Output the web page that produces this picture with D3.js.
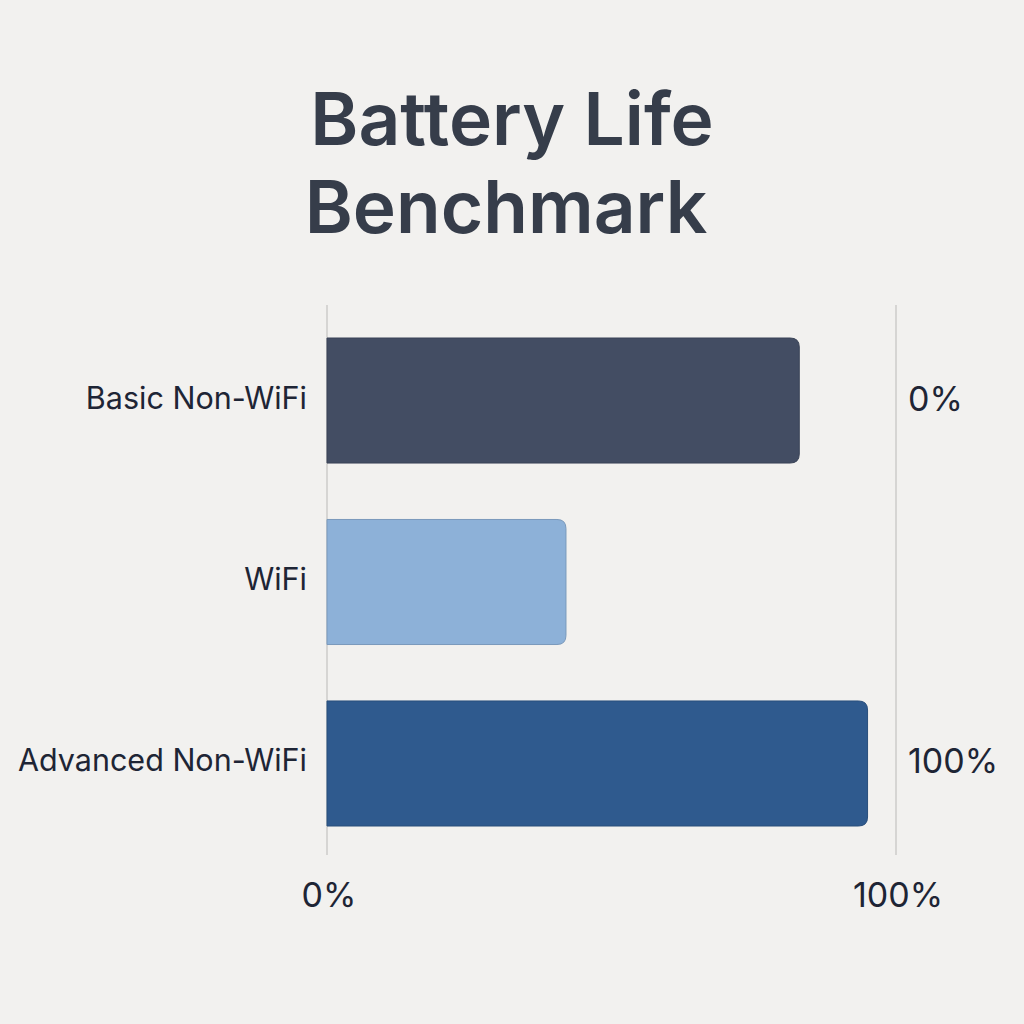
<!DOCTYPE html>
<html>
<head>
<meta charset="utf-8">
<script src="https://cdn.jsdelivr.net/npm/d3@7"></script>
<style>
  body{margin:0;background:#f2f1ef;}
  svg{display:block;}
</style>
</head>
<body>
<svg id="chart"></svg>
<script>
var categories = ["Basic Non-WiFi", "WiFi", "Advanced Non-WiFi"];
var values = [83, 42, 95];
var barColors = ["#434d63", "#8db1d8", "#2f5a8e"];
var xTicks = [0, 100];
var sideLabels = ["0%", "", "100%"];

var width = 1024, height = 1024;
var margins = {top: 305, bot: 169, left: 327, right: 128};

var svg = d3.select("#chart")
            .attr("width", width)
            .attr("height", height);

svg.append("rect")
   .attr("width", width).attr("height", height)
   .attr("fill", "#f2f1ef");

// title
var title = svg.append("text")
   .attr("text-anchor", "middle")
   .attr("font-family", "Inter, 'Noto Sans', sans-serif")
   .attr("font-weight", 600)
   .attr("font-size", 73)
   .attr("fill", "#363d4a");
title.append("tspan").attr("x", 512).attr("y", 145).text("Battery Life");
title.append("tspan").attr("x", 506).attr("y", 233).text("Benchmark");

var xScale = d3.scaleLinear()
               .domain([0, 100])
               .range([margins.left, width - margins.right]);

var yScale = d3.scaleBand()
               .domain(categories)
               .range([338, 826])
               .paddingInner(0.311)
               .paddingOuter(0);

// grid lines at ticks
svg.selectAll("line.grid")
   .data(xTicks)
   .enter()
   .append("line")
   .attr("class", "grid")
   .attr("x1", function(d){ return xScale(d); })
   .attr("x2", function(d){ return xScale(d); })
   .attr("y1", margins.top)
   .attr("y2", height - margins.bot)
   .attr("stroke", "#d6d5d3")
   .attr("stroke-width", 2);

// bars, rounded only at the end
function barPath(d, i){
  var x0 = xScale(0), x1 = xScale(d), y0 = yScale(categories[i]), h = yScale.bandwidth(), r = 9;
  return "M" + x0 + "," + y0 +
         "H" + (x1 - r) +
         "Q" + x1 + "," + y0 + " " + x1 + "," + (y0 + r) +
         "V" + (y0 + h - r) +
         "Q" + x1 + "," + (y0 + h) + " " + (x1 - r) + "," + (y0 + h) +
         "H" + x0 + "Z";
}

svg.selectAll("path.bar")
   .data(values)
   .enter()
   .append("path")
   .attr("class", "bar")
   .attr("d", barPath)
   .attr("fill", function(d, i){ return barColors[i]; })
   .attr("stroke", function(d, i){ return d3.color(barColors[i]).darker(0.4); })
   .attr("stroke-width", 1);

// category labels
svg.selectAll("text.cat")
   .data(categories)
   .enter()
   .append("text")
   .attr("class", "cat")
   .attr("x", 307)
   .attr("y", function(d){ return yScale(d) + yScale.bandwidth() / 2 + 8; })
   .attr("text-anchor", "end")
   .attr("font-family", "Inter, 'Noto Sans', sans-serif")
   .attr("font-size", 30.5)
   .attr("fill", "#1e2535")
   .text(function(d){ return d; });

// labels to the right
svg.selectAll("text.side")
   .data(sideLabels)
   .enter()
   .append("text")
   .attr("class", "side")
   .attr("x", 908)
   .attr("y", function(d, i){ return yScale(categories[i]) + yScale.bandwidth() / 2 + 10; })
   .attr("font-family", "Inter, 'Noto Sans', sans-serif")
   .attr("font-size", 34)
   .attr("fill", "#1e2535")
   .text(function(d){ return d; });

// x axis labels
svg.selectAll("text.xtick")
   .data(xTicks)
   .enter()
   .append("text")
   .attr("class", "xtick")
   .attr("x", function(d){ return xScale(d) + 2; })
   .attr("y", 907)
   .attr("text-anchor", "middle")
   .attr("font-family", "Inter, 'Noto Sans', sans-serif")
   .attr("font-size", 34)
   .attr("fill", "#1e2535")
   .text(function(d){ return d + "%"; });
</script>
</body>
</html>
